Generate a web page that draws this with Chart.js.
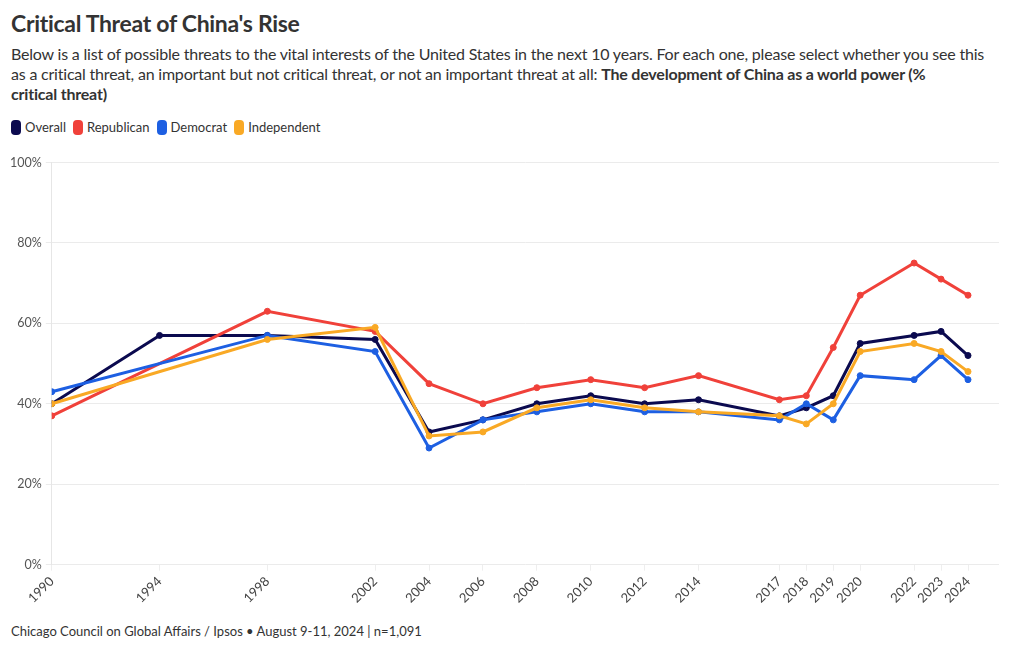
<!DOCTYPE html>
<html>
<head>
<meta charset="utf-8">
<script src="https://cdn.jsdelivr.net/npm/chart.js@4.4.1/dist/chart.umd.min.js"></script>
<style>
  body { margin: 0; background: #fff; font-family: Lato, "Open Sans", sans-serif; color: #333; width: 1020px; height: 650px; overflow: hidden; position: relative; }
  .title { position: absolute; left: 11px; top: 9px; font-size: 23px; font-weight: 700; color: #333; letter-spacing: -0.3px; white-space: nowrap; }
  .subtitle { position: absolute; left: 11px; top: 44px; font-size: 16px; line-height: 20px; color: #333; white-space: nowrap; letter-spacing: -0.2px; }
  .subtitle b { font-weight: 700; }
  .legend { position: absolute; left: 11px; top: 119px; font-size: 13px; color: #333; display: flex; gap: 7px; }
  .legend span { display: flex; align-items: center; }
  .legend i { display: inline-block; width: 10px; height: 15px; border-radius: 4px; margin-right: 4px; }
  .chart-wrap { position: absolute; left: 0; top: 151px; width: 1020px; height: 458px; }
  .footer { position: absolute; left: 11px; top: 623px; font-size: 13px; color: #333; white-space: nowrap; }
</style>
</head>
<body>
<div class="title">Critical Threat of China's Rise</div>
<div class="subtitle">Below is a list of possible threats to the vital interests of the United States in the next 10 years. For each one, please select whether you see this<br>as a critical threat, an important but not critical threat, or not an important threat at all: <b>The development of China as a world power (%<br>critical threat)</b></div>
<div class="legend" id="legend"></div>
<div class="chart-wrap"><canvas id="chart"></canvas></div>
<div class="footer">Chicago Council on Global Affairs / Ipsos • August 9-11, 2024 | n=1,091</div>
<script>
const years = [1990, 1994, 1998, 2002, 2004, 2006, 2008, 2010, 2012, 2014, 2017, 2018, 2019, 2020, 2022, 2023, 2024];
const overall =     [40, 57, 57, 56, 33, 36, 40, 42, 40, 41, 37, 39, 42, 55, 57, 58, 52];
const republican =  [37, null, 63, 58, 45, 40, 44, 46, 44, 47, 41, 42, 54, 67, 75, 71, 67];
const democrat =    [43, null, 57, 53, 29, 36, 38, 40, 38, 38, 36, 40, 36, 47, 46, 52, 46];
const independent = [40, null, 56, 59, 32, 33, 39, 41, 39, 38, 37, 35, 40, 53, 55, 53, 48];
const yTicks = [0, 20, 40, 60, 80, 100];

const seriesNames = ['Overall', 'Republican', 'Democrat', 'Independent'];
const seriesData = [overall, republican, democrat, independent];
const colors = ['#0b0a4f', '#f0413a', '#1d5fe2', '#f9a925'];

// legend
const legend = document.getElementById('legend');
seriesNames.forEach((n, i) => {
  legend.innerHTML += `<span><i style="background:${colors[i]}"></i>${n}</span>`;
});

const datasets = seriesNames.map((n, i) => ({
  label: n,
  data: years.map((yr, j) => ({ x: yr, y: seriesData[i][j] })).filter(p => p.y !== null),
  borderColor: colors[i],
  backgroundColor: colors[i],
  borderWidth: 3,
  pointRadius: 3,
  pointBorderWidth: 1,
  pointHoverRadius: 4,
  tension: 0
})).reverse();

new Chart(document.getElementById('chart'), {
  type: 'line',
  data: { datasets },
  options: {
    responsive: true,
    maintainAspectRatio: false,
    animation: false,
    layout: { padding: { left: 6, right: 21, top: 5, bottom: 0 } },
    plugins: { legend: { display: false }, tooltip: { enabled: false } },
    scales: {
      x: {
        type: 'linear',
        min: 1990,
        max: 2025.15,
        afterBuildTicks: axis => { axis.ticks = years.map(v => ({ value: v })); },
        ticks: {
          autoSkip: false,
          maxRotation: 45,
          minRotation: 45,
          color: '#444',
          font: { family: 'Lato', size: 13 },
          callback: v => String(v)
        },
        grid: { display: true, drawOnChartArea: false, drawTicks: true, tickLength: 6, color: '#eeeeee' },
        border: { display: false }
      },
      y: {
        min: 0,
        max: 100,
        afterBuildTicks: axis => { axis.ticks = yTicks.map(v => ({ value: v })); },
        ticks: {
          color: '#555',
          font: { family: 'Lato', size: 12.5 },
          padding: 4,
          callback: v => v + '%'
        },
        grid: { color: '#ebebeb', tickLength: 6 },
        border: { display: true, color: '#e6e6e6' }
      }
    }
  }
});
</script>
</body>
</html>
